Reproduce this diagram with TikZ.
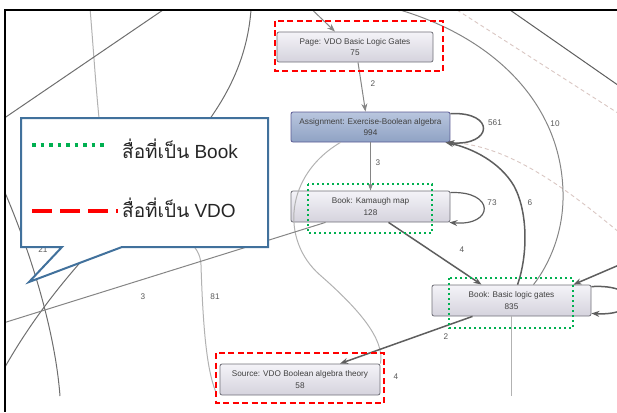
\documentclass[tikz,border=0pt]{standalone}
\usepackage{fontspec}
\setmainfont{Liberation Sans}
\newfontfamily\thaifont[Script=Thai]{Loma}
\usetikzlibrary{arrows.meta,positioning}

\definecolor{edgedark}{HTML}{5E5E5E}
\definecolor{edgemid}{HTML}{858585}
\definecolor{edgelite}{HTML}{B2B2B2}
\definecolor{dashpink}{HTML}{D9C6C2}
\definecolor{ndline}{HTML}{707078}
\definecolor{ndtop}{HTML}{F4F3F8}
\definecolor{ndbot}{HTML}{D5D3DD}
\definecolor{asgtop}{HTML}{B9C6DE}
\definecolor{asgbot}{HTML}{8FA2C4}
\definecolor{legendblue}{HTML}{41719C}
\definecolor{vdored}{HTML}{FF0000}
\definecolor{bookgreen}{HTML}{00B050}

\tikzset{
  nd/.style={draw=ndline,line width=0.8pt,rounded corners=2pt,top color=ndtop,bottom color=ndbot,
    minimum width=159pt,minimum height=31pt,inner sep=0pt,align=center,
    font=\fontsize{8.2}{11.5}\selectfont,text=black!75},
  asg/.style={top color=asgtop,bottom color=asgbot,draw=ndline!80!blue},
  lbl/.style={font=\fontsize{8.2}{10}\selectfont,text=black!65,inner sep=0pt},
  edge/.style={draw=edgemid,line width=1pt},
  heavy/.style={draw=edgedark,line width=1.5pt},
  lite/.style={draw=edgelite,line width=1pt},
  pinkdash/.style={draw=dashpink,line width=0.9pt,dash pattern=on 4pt off 3pt},
  vdobox/.style={draw=vdored,line width=2.2pt,dash pattern=on 6pt off 3.5pt},
  bookbox/.style={draw=bookgreen,line width=2.2pt,dash pattern=on 2.2pt off 2.8pt},
  legtext/.style={font=\fontsize{19}{23}\selectfont,text=black!85,inner sep=0pt,anchor=base west}
}

\begin{document}
\begin{tikzpicture}[x=1pt,y=-1pt,>={Stealth[length=8pt,width=6pt]}]
\useasboundingbox (0,0) rectangle (617,412);

% graph nodes
\node[nd,minimum width=156pt,minimum height=30pt] (page) at (355,47) {Page: VDO Basic Logic Gates\\75};
\node[nd,asg,minimum height=30pt] (asg) at (370.5,127) {Assignment: Exercise-Boolean algebra\\994};
\node[nd] (kmap) at (370.5,206.5) {Book: Kamaugh map\\128};
\node[nd] (basic) at (511.5,300.5) {Book: Basic logic gates\\835};
\node[nd,minimum width=160pt] (src) at (300,379.5) {Source: VDO Boolean algebra theory\\58};

% ends of edges that leave the frame
\coordinate (inpage) at (302,0);
\coordinate (outten) at (400,10);
\coordinate (outdiag) at (510,10);
\coordinate (outdiagend) at (635,97);
\coordinate (dashstart) at (457,10);
\coordinate (dashend) at (635,124);
\coordinate (dashfar) at (640,250);
\coordinate (inright) at (640,256);
\coordinate (downend) at (511.5,396);
\coordinate (lefta) at (90,8);
\coordinate (leftb) at (163,10);
\coordinate (leftbend) at (0,121);
\coordinate (leftc) at (251,10);
\coordinate (leftcend) at (5,367);
\coordinate (leftd) at (3,188);
\coordinate (leftdend) at (60,396);
\coordinate (lefte) at (0,324);

\begin{scope}
\clip (5,10) rectangle (617,412);
% background links
\draw[lite] (lefta) .. controls (96,80) and (98,130) .. (110,200)
  .. controls (125,240) and (199,220) .. (201,265)
  .. controls (203,330) and (207,370) .. ([xshift=-4pt,yshift=4pt]src.south west);
\draw[lite] ([xshift=-30pt]asg.south) .. controls (285,175) and (280,240) .. (320,275)
  .. controls (360,310) and (385,340) .. (src.north east);
\draw[lite] (basic.south) -- (downend);
\draw[edge,draw=edgedark!90] (leftb) -- (leftbend);
\draw[edge,draw=edgedark!90] (leftc) .. controls (240,150) and (100,200) .. (leftcend);
\draw[edge,draw=edgedark!90] (leftd) .. controls (30,250) and (55,330) .. (leftdend);
\draw[edge] (lefte) -- ([xshift=-45pt]kmap.south);
\draw[edge,draw=edgedark] (outdiag) -- (outdiagend);
\draw[pinkdash] (dashstart) -- (dashend);
\draw[pinkdash] (asg.south east) .. controls (510,145) and (570,190) .. (dashfar);
\draw[edge] (outten) .. controls (500,40) and (565,110) .. (563,200)
  .. controls (562,240) and (545,270) .. ([xshift=22pt]basic.north);

% weighted links
\draw[edge,->] (inpage) -- ([xshift=-20pt]page.north);
\draw[edge,->] ([xshift=3pt]page.south) -- ([xshift=-5pt]asg.north);
\draw[heavy,->] ([yshift=-2pt]asg.north east) .. controls +(46,-2) and +(46,4) .. ([xshift=-4pt]asg.south east);
\draw[edge,->] (asg.south) -- (kmap.north);
\draw[heavy,line width=1.2pt,->] ([yshift=-2pt]kmap.north east) .. controls +(45,-2) and +(45,4) .. ([xshift=-1pt]kmap.south east);
\draw[heavy,->] ([xshift=18pt]kmap.south) -- ([xshift=-30pt]basic.north);
\draw[heavy,->] ([xshift=6pt]basic.north) .. controls (528,255) and (528,212) .. (514,186)
  .. controls (500,162) and (472,148) .. ([xshift=-5pt]asg.south east);
\draw[heavy,->] (inright) -- ([xshift=-18pt]basic.north east);
\draw[heavy,->] ([yshift=-2pt]basic.north east) .. controls +(50,-3) and +(50,3) .. ([yshift=3pt]basic.south east);
\draw[heavy,->] ([xshift=-39pt]basic.south) -- ([xshift=40pt]src.north);
\end{scope}

% link weights
\node[lbl] (l2a) at (373,84) {2};
\node[lbl] (l561) at (495,123) {561};
\node[lbl] (l10) at (555,124) {10};
\node[lbl] (l3a) at (378,163) {3};
\node[lbl] (l73) at (492,203) {73};
\node[lbl] (l6) at (530,203) {6};
\node[lbl] (l4a) at (462,250) {4};
\node[lbl] (l2b) at (446,337) {2};
\node[lbl] (l4b) at (396,377) {4};
\node[lbl] (l21) at (43,250) {21};
\node[lbl] (l3b) at (143,297) {3};
\node[lbl] (l81) at (215,297) {81};

% media type marks
\draw[vdobox] (275,21) rectangle (443,71);
\draw[bookbox] (308,184) rectangle (432,233);
\draw[bookbox] (449,278) rectangle (573,328);
\draw[vdobox] (216,353) rectangle (384,403);

% legend callout
\draw[draw=legendblue,line width=2pt,fill=white]
  (21,118) -- (268,118) -- (268,247) -- (122,247) -- (29,282) -- (62,247) -- (21,247) -- cycle;
\coordinate (bk1) at (32,145);
\coordinate (bk2) at (104,145);
\coordinate (vd1) at (32,211);
\coordinate (vd2) at (118,211);
\draw[draw=bookgreen,line width=3.5pt,dash pattern=on 3.5pt off 5pt] (bk1) -- (bk2);
\draw[draw=vdored,line width=4pt,dash pattern=on 20pt off 8pt] (vd1) -- (vd2);
\node[legtext] (bookkey) at (122,158) {{\thaifont สื่อที่เป็น} Book};
\node[legtext] (vdokey) at (122,217) {{\thaifont สื่อที่เป็น} VDO};

% frame
\draw[line width=1.8pt] (617,10) -- (5,10) -- (5,412);
\end{tikzpicture}
\end{document}
